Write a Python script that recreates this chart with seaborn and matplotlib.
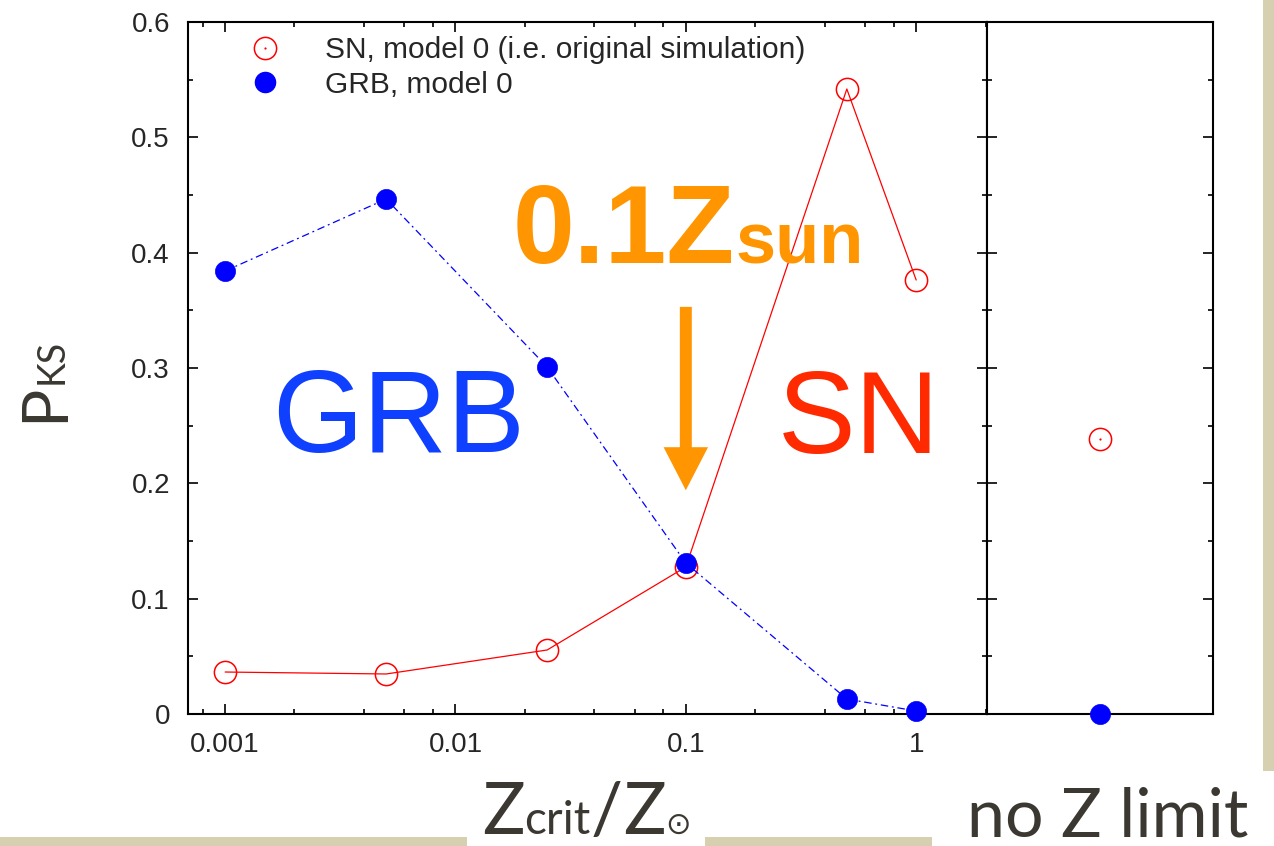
import matplotlib
matplotlib.use("Agg")
import matplotlib.pyplot as plt
import matplotlib.ticker as mticker
from matplotlib.patches import Rectangle
from matplotlib.lines import Line2D
from matplotlib.legend_handler import HandlerTuple
import numpy as np
import pandas as pd
import seaborn as sns

# ---------------- data ----------------
z_crit = [0.001, 0.005, 0.025, 0.1, 0.5, 1.0]
sn_pks = [0.0364, 0.0347, 0.0555, 0.1275, 0.5419, 0.3763]
grb_pks = [0.3841, 0.4465, 0.3009, 0.1309, 0.0130, 0.0026]
sn_nolimit = [0.2384]
grb_nolimit = [0.0]
x_ticks = [0.001, 0.01, 0.1, 1]
x_tick_labels = ["0.001", "0.01", "0.1", "1"]
y_ticks = [0, 0.1, 0.2, 0.3, 0.4, 0.5, 0.6]
y_tick_labels = ["0", "0.1", "0.2", "0.3", "0.4", "0.5", "0.6"]
legend_labels = ["SN, model 0 (i.e. original simulation)", "GRB, model 0"]

sns.set_theme(style="white")
plt.rcParams["font.family"] = ["Liberation Sans", "DejaVu Sans"]

W, H = 1274, 846
fig = plt.figure(figsize=(W / 100, H / 100), dpi=100)
fig.patch.set_facecolor("white")

BEIGE = "#d6d0b0"
for (x0, y0, x1, y1) in [(0, 837, 467, 846), (705, 837, 932, 846), (1263, 0, 1274, 771)]:
    fig.add_artist(Rectangle((x0 / W, 1 - y1 / H), (x1 - x0) / W, (y1 - y0) / H,
                             transform=fig.transFigure, color=BEIGE, zorder=0, lw=0))

ax = fig.add_axes([188 / W, 1 - 714 / H, (987 - 188) / W, (714 - 22) / H])
ax2 = fig.add_axes([987 / W, 1 - 714 / H, (1213 - 987) / W, (714 - 22) / H])
for a in (ax, ax2):
    a.set_facecolor("white")
    for s in a.spines.values():
        s.set_linewidth(1.5)
        s.set_color("black")
        s.set_visible(True)

ax.set_xscale("log")
sns.lineplot(x=z_crit, y=sn_pks, ax=ax, color="red", lw=0.9, marker="o", ms=16,
             mfc="none", mec="red", mew=1.1, estimator=None, sort=False, clip_on=False, zorder=3)
sns.lineplot(x=z_crit, y=grb_pks, ax=ax, color="blue", lw=0.9, linestyle=(0, (6, 3, 1.5, 3)),
             marker="o", ms=14.5, mfc="blue", mec="blue", mew=0.5, estimator=None, sort=False,
             clip_on=False, zorder=4)

ax.set_xlim(0.00069, 2.03)
ax.set_ylim(0, 0.6)
ax.set_xticks(x_ticks)
ax.set_xticklabels(x_tick_labels)
ax.xaxis.set_minor_locator(mticker.LogLocator(base=10, subs=(2, 4, 6, 8), numticks=20))
ax.xaxis.set_minor_formatter(mticker.NullFormatter())
ax.set_yticks(y_ticks)
ax.set_yticklabels(y_tick_labels)
ax.yaxis.set_minor_locator(mticker.MultipleLocator(0.05))
ax.tick_params(which="both", direction="in", top=True, right=True, bottom=True, left=True,
               color="black", width=1.2)
ax.tick_params(which="major", length=7.5, labelsize=20, pad=13)
ax.tick_params(which="minor", length=3.8)
ax.set_xlabel("")
ax.set_ylabel("")

# right panel: no Z limit
xpos = [0.5]
sns.lineplot(x=xpos, y=sn_nolimit, ax=ax2, color="red", marker="o", ms=16, mfc="none",
             mec="red", mew=1.1, lw=0, estimator=None, clip_on=False, zorder=3)
sns.lineplot(x=xpos, y=sn_nolimit, ax=ax2, color="red", marker="o", ms=1.6, mfc="red",
             mec="red", mew=0, lw=0, estimator=None, clip_on=False, zorder=3)
sns.lineplot(x=xpos, y=grb_nolimit, ax=ax2, color="blue", marker="o", ms=14.5, mfc="blue",
             mec="blue", mew=0.5, lw=0, estimator=None, clip_on=False, zorder=4)
ax2.set_xlim(0, 1)
ax2.set_ylim(0, 0.6)
ax2.set_xticks([])
ax2.set_yticks(y_ticks)
ax2.yaxis.set_minor_locator(mticker.MultipleLocator(0.05))
ax2.tick_params(which="both", direction="in", left=True, right=True, labelleft=False,
                labelright=False, color="black", width=1.2)
ax2.tick_params(which="major", length=7.5)
ax2.tick_params(which="minor", length=3.8)
ax2.set_xlabel("")
ax2.set_ylabel("")

# legend
h_sn = (Line2D([], [], ls="none", marker="o", ms=16, mfc="none", mec="red", mew=1.1),
        Line2D([], [], ls="none", marker="o", ms=1.6, mfc="red", mec="red", mew=0))
h_grb = Line2D([], [], ls="none", marker="o", ms=14.5, mfc="blue", mec="blue")
ax.legend([h_sn, h_grb], legend_labels, loc="upper left",
          bbox_to_anchor=((256 - 188) / 799, 1 - (36 - 22) / 692), frameon=False,
          fontsize=21.5, handlelength=0.6, handletextpad=1.7, borderpad=0, borderaxespad=0,
          labelspacing=0.22, handler_map={tuple: HandlerTuple(ndivide=1, pad=0)})

# annotations
fig.text(272 / W, 1 - 452 / H, "GRB", fontsize=84, color="#1040ff", ha="left", va="baseline")
fig.text(778 / W, 1 - 453 / H, "SN", fontsize=84, color="#ff2a00", ha="left", va="baseline")

ORANGE = "#ff9500"
ax.annotate("", xy=(0.1, 0.194), xytext=(0.1, 0.353),
            arrowprops=dict(width=8.6, headwidth=32, headlength=31, color=ORANGE, shrink=0, lw=0))

fig.canvas.draw()
renderer = fig.canvas.get_renderer()


def hseq(x0, ybase, pieces, color, weight="normal"):
    x = x0
    for s, size, fam in pieces:
        t = fig.text(x / W, 1 - ybase / H, s, fontsize=size, color=color, ha="left",
                     va="baseline", fontweight=weight, family=fam)
        bb = t.get_window_extent(renderer)
        x += bb.width


def vseq(xbase, y0, pieces, color, weight="normal"):
    y = y0
    for s, size, fam in pieces:
        t = fig.text(xbase / W, 1 - y / H, s, fontsize=size, color=color, ha="left",
                     va="baseline", rotation=90, rotation_mode="anchor", fontweight=weight,
                     family=fam)
        bb = t.get_window_extent(renderer)
        y -= bb.height


hseq(513, 263, [("0.1Z", 80, "Liberation Sans"), ("sun", 52, "Liberation Sans")], ORANGE,
     weight="bold")

DARK = "#3b3731"
LIGHT = ["Lato", "DejaVu Sans"]
SYM = ["DejaVu Sans", "Noto Sans CJK JP", "Noto Sans"]
hseq(482, 834, [("Z", 51, LIGHT), ("crit", 33, LIGHT), ("/", 51, LIGHT), ("Z", 51, LIGHT),
                ("\u2299", 22, SYM)], DARK, weight="normal")
fig.text(967 / W, 1 - 836 / H, "no Z limit", fontsize=49, color=DARK, ha="left",
         va="baseline", family=LIGHT, fontweight="normal")
vseq(63, 422, [("P", 46, LIGHT), ("KS", 27, LIGHT)], DARK, weight="normal")

fig.savefig("out.png", dpi=100, facecolor="white")
